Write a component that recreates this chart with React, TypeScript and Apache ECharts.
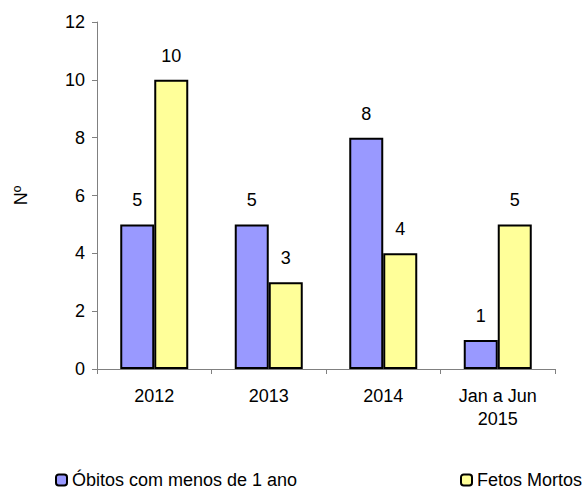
import React, { useEffect, useRef } from "react";
import * as echarts from "echarts";

const categories = ["2012", "2013", "2014", "Jan a Jun\n2015"];
const obitos = [5, 5, 8, 1];
const fetos = [10, 3, 4, 5];
const seriesNames = ["Óbitos com menos de 1 ano", "Fetos Mortos"];

export default function App() {
  const ref = useRef<HTMLDivElement>(null);
  useEffect(() => {
    const chart = echarts.init(ref.current!, null, { renderer: "svg" });
    const font = "Liberation Sans, Arial, sans-serif";
    const fs = 18;
    const label = {
      show: true,
      position: "top",
      distance: 15,
      color: "#000",
      fontSize: fs,
      fontFamily: font,
    };
    const legendText = { color: "#000", fontSize: fs, fontFamily: font };
    chart.setOption({
      animation: false,
      backgroundColor: "#fff",
      grid: { left: 97, right: 31, top: 22, bottom: 120 },
      legend: [
        {
          data: [seriesNames[0]],
          left: 55,
          top: 471,
          padding: 0,
          itemWidth: 11,
          itemHeight: 11,
          textStyle: legendText,
        },
        {
          data: [seriesNames[1]],
          left: 460,
          top: 471,
          padding: 0,
          itemWidth: 11,
          itemHeight: 11,
          textStyle: legendText,
        },
      ],
      xAxis: {
        type: "category",
        data: categories,
        axisLine: { lineStyle: { color: "#808080", width: 1 } },
        axisTick: { show: true, length: 5, lineStyle: { color: "#808080" } },
        axisLabel: {
          color: "#000",
          fontSize: fs,
          fontFamily: font,
          margin: 15,
          lineHeight: 23,
        },
      },
      yAxis: {
        type: "value",
        min: 0,
        max: 12,
        interval: 2,
        name: "Nº",
        nameLocation: "middle",
        nameGap: 67,
        nameRotate: 90,
        nameTextStyle: { color: "#000", fontSize: fs, fontFamily: font },
        splitLine: { show: false },
        axisLine: { show: true, lineStyle: { color: "#808080", width: 1 } },
        axisTick: { show: true, length: 5, lineStyle: { color: "#808080" } },
        axisLabel: { color: "#000", fontSize: fs, fontFamily: font, margin: 12 },
      },
      series: [
        {
          name: seriesNames[0],
          type: "bar",
          data: obitos,
          barWidth: 34,
          barGap: "0%",
          itemStyle: { color: "#9999FF", borderColor: "#000", borderWidth: 2 },
          label,
        },
        {
          name: seriesNames[1],
          type: "bar",
          data: fetos,
          barWidth: 34,
          barGap: "0%",
          itemStyle: { color: "#FFFF99", borderColor: "#000", borderWidth: 2 },
          label,
        },
      ],
    });
    return () => chart.dispose();
  }, []);
  return (
    <div
      ref={ref}
      style={{ position: "fixed", left: 0, top: 0, width: 586, height: 489 }}
    />
  );
}
